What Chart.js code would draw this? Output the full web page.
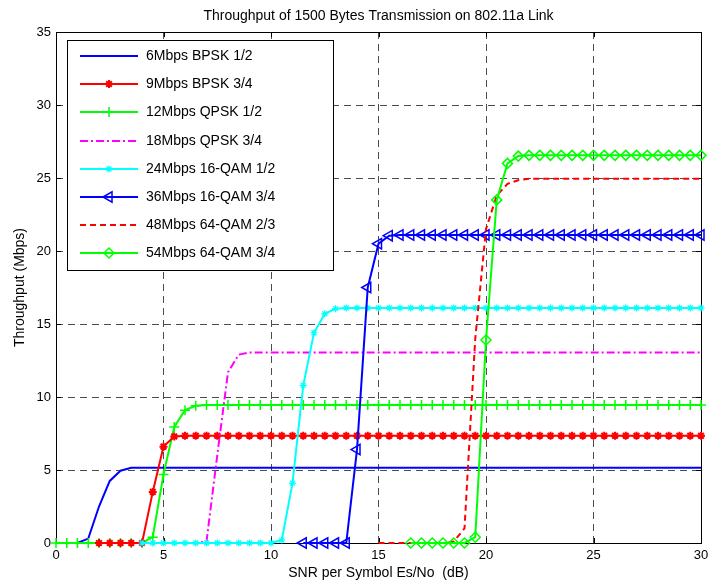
<!DOCTYPE html>
<html lang="en">
<head>
<meta charset="UTF-8" />
<title>Throughput of 1500 Bytes Transmission on 802.11a Link</title>
<script src="https://cdn.jsdelivr.net/npm/chart.js@4.4.1/dist/chart.umd.min.js"></script>
<style>
    html, body { margin: 0; padding: 0; background: #ffffff; }
    canvas { display: block; }
</style>
</head>
<body>
<canvas id="chart" width="709" height="582"></canvas>
<script>
// === Data (SNR step 0.5 dB) ===
const SNR = [
    0, 0.5, 1, 1.5, 2, 2.5, 3, 3.5, 4, 4.5,
    5, 5.5, 6, 6.5, 7, 7.5, 8, 8.5, 9, 9.5,
    10, 10.5, 11, 11.5, 12, 12.5, 13, 13.5, 14, 14.5,
    15, 15.5, 16, 16.5, 17, 17.5, 18, 18.5, 19, 19.5,
    20, 20.5, 21, 21.5, 22, 22.5, 23, 23.5, 24, 24.5,
    25, 25.5, 26, 26.5, 27, 27.5, 28, 28.5, 29, 29.5,
    30
];
const THR_6 = [
    0, 0, 0, 0.3, 2.5, 4.25, 4.95, 5.15, 5.15, 5.15,
    5.15, 5.15, 5.15, 5.15, 5.15, 5.15, 5.15, 5.15, 5.15, 5.15,
    5.15, 5.15, 5.15, 5.15, 5.15, 5.15, 5.15, 5.15, 5.15, 5.15,
    5.15, 5.15, 5.15, 5.15, 5.15, 5.15, 5.15, 5.15, 5.15, 5.15,
    5.15, 5.15, 5.15, 5.15, 5.15, 5.15, 5.15, 5.15, 5.15, 5.15,
    5.15, 5.15, 5.15, 5.15, 5.15, 5.15, 5.15, 5.15, 5.15, 5.15,
    5.15
];
const THR_9 = [
    null, null, null, null, 0, 0, 0, 0, 0, 3.5,
    6.6, 7.3, 7.35, 7.35, 7.35, 7.35, 7.35, 7.35, 7.35, 7.35,
    7.35, 7.35, 7.35, 7.35, 7.35, 7.35, 7.35, 7.35, 7.35, 7.35,
    7.35, 7.35, 7.35, 7.35, 7.35, 7.35, 7.35, 7.35, 7.35, 7.35,
    7.35, 7.35, 7.35, 7.35, 7.35, 7.35, 7.35, 7.35, 7.35, 7.35,
    7.35, 7.35, 7.35, 7.35, 7.35, 7.35, 7.35, 7.35, 7.35, 7.35,
    7.35
];
const THR_12 = [
    0, 0, 0, 0, 0, 0, 0, 0, 0, 0.4,
    4.7, 7.95, 9.1, 9.4, 9.45, 9.45, 9.45, 9.45, 9.45, 9.45,
    9.45, 9.45, 9.45, 9.45, 9.45, 9.45, 9.45, 9.45, 9.45, 9.45,
    9.45, 9.45, 9.45, 9.45, 9.45, 9.45, 9.45, 9.45, 9.45, 9.45,
    9.45, 9.45, 9.45, 9.45, 9.45, 9.45, 9.45, 9.45, 9.45, 9.45,
    9.45, 9.45, 9.45, 9.45, 9.45, 9.45, 9.45, 9.45, 9.45, 9.45,
    9.45
];
const THR_18 = [
    null, null, null, null, null, null, null, null, 0, 0,
    0, 0, 0, 0, 0.1, 6.0, 11.7, 12.9, 13.05, 13.05,
    13.05, 13.05, 13.05, 13.05, 13.05, 13.05, 13.05, 13.05, 13.05, 13.05,
    13.05, 13.05, 13.05, 13.05, 13.05, 13.05, 13.05, 13.05, 13.05, 13.05,
    13.05, 13.05, 13.05, 13.05, 13.05, 13.05, 13.05, 13.05, 13.05, 13.05,
    13.05, 13.05, 13.05, 13.05, 13.05, 13.05, 13.05, 13.05, 13.05, 13.05,
    13.05
];
const THR_24 = [
    null, null, null, null, null, null, null, null, 0, 0,
    0, 0, 0, 0, 0, 0, 0, 0, 0, 0,
    0, 0.2, 4.1, 10.8, 14.4, 15.7, 16.05, 16.1, 16.1, 16.1,
    16.1, 16.1, 16.1, 16.1, 16.1, 16.1, 16.1, 16.1, 16.1, 16.1,
    16.1, 16.1, 16.1, 16.1, 16.1, 16.1, 16.1, 16.1, 16.1, 16.1,
    16.1, 16.1, 16.1, 16.1, 16.1, 16.1, 16.1, 16.1, 16.1, 16.1,
    16.1
];
const THR_36 = [
    null, null, null, null, null, null, null, null, null, null,
    null, null, null, null, null, null, null, null, null, null,
    null, null, null, 0, 0, 0, 0, 0, 6.4, 17.5,
    20.5, 21.05, 21.1, 21.1, 21.1, 21.1, 21.1, 21.1, 21.1, 21.1,
    21.1, 21.1, 21.1, 21.1, 21.1, 21.1, 21.1, 21.1, 21.1, 21.1,
    21.1, 21.1, 21.1, 21.1, 21.1, 21.1, 21.1, 21.1, 21.1, 21.1,
    21.1
];
const THR_48 = [
    null, null, null, null, null, null, null, null, null, null,
    null, null, null, null, null, null, null, null, null, null,
    null, null, null, null, null, null, null, null, null, null,
    0, 0, 0, 0, 0, 0, 0, 0.1, 1.0, 14,
    21.5, 23.8, 24.6, 24.85, 24.95, 24.95, 24.95, 24.95, 24.95, 24.95,
    24.95, 24.95, 24.95, 24.95, 24.95, 24.95, 24.95, 24.95, 24.95, 24.95,
    24.95
];
const THR_54 = [
    null, null, null, null, null, null, null, null, null, null,
    null, null, null, null, null, null, null, null, null, null,
    null, null, null, null, null, null, null, null, null, null,
    null, null, null, 0, 0, 0, 0, 0, 0, 0.4,
    13.9, 23.5, 26.0, 26.5, 26.55, 26.55, 26.55, 26.55, 26.55, 26.55,
    26.55, 26.55, 26.55, 26.55, 26.55, 26.55, 26.55, 26.55, 26.55, 26.55,
    26.55
];
const LABELS = [
    "6Mbps BPSK 1/2", "9Mbps BPSK 3/4", "12Mbps QPSK 1/2", "18Mbps QPSK 3/4",
    "24Mbps 16-QAM 1/2", "36Mbps 16-QAM 3/4", "48Mbps 64-QAM 2/3", "54Mbps 64-QAM 3/4"
];
const X_TICKS = [0, 5, 10, 15, 20, 25, 30];
const Y_TICKS = [0, 5, 10, 15, 20, 25, 30, 35];

const FONT = "'Liberation Sans', Arial, Helvetica, sans-serif";
Chart.defaults.font.family = FONT;
Chart.defaults.color = "#000";

// pair the SNR axis with a series, skipping points that were not simulated
function toPoints(values) {
    const pts = [];
    values.forEach((v, i) => { if (v !== null) pts.push({ x: SNR[i], y: v }); });
    return pts;
}

// line + marker styles (Matlab-like); lower order is drawn on top
const STYLES = [
    { color: "#0000ff", dash: [], marker: false, order: 8 },
    { color: "#ff0000", dash: [], marker: "star", radius: 4, width: 2, order: 6 },
    { color: "#00ff00", dash: [], marker: "cross", radius: 5, width: 1.5, order: 7 },
    { color: "#ff00ff", dash: [8, 3, 2, 3], marker: false, order: 5 },
    { color: "#00ffff", dash: [], marker: "star", radius: 3.5, width: 1.2, order: 4 },
    { color: "#0000ff", dash: [], marker: "triangle", rotation: -90, radius: 6, width: 1.5, order: 3 },
    { color: "#ff0000", dash: [6, 4], marker: false, order: 2 },
    { color: "#00ff00", dash: [], marker: "rectRot", radius: 5, width: 1.5, order: 1 }
];
const SERIES = [THR_6, THR_9, THR_12, THR_18, THR_24, THR_36, THR_48, THR_54];

const datasets = SERIES.map((vals, i) => {
    const s = STYLES[i];
    return {
        label: LABELS[i],
        data: toPoints(vals),
        borderColor: s.color,
        borderWidth: 2,
        borderDash: s.dash,
        tension: 0,
        fill: false,
        order: s.order,
        clip: 10,
        pointStyle: s.marker || "circle",
        pointRadius: s.marker ? s.radius : 0,
        pointRotation: s.rotation || 0,
        pointBorderWidth: s.width || 0,
        pointBorderColor: s.color,
        pointBackgroundColor: "rgba(0,0,0,0)"
    };
});

// grid lines only inside the box; the box itself is drawn by axesBox
function innerGrid(min, max) {
    return (ctx) => (ctx.tick && (ctx.tick.value === min || ctx.tick.value === max))
        ? "rgba(0,0,0,0)" : "rgba(0,0,0,0.7)";
}

// === Plugins: title, Matlab box with inward ticks, legend in the corner ===
const plotTitle = {
    id: "plotTitle",
    afterDraw(chart) {
        const { ctx, chartArea } = chart;
        ctx.save();
        ctx.font = "14px " + FONT;
        ctx.fillStyle = "#000";
        ctx.textAlign = "center";
        ctx.textBaseline = "middle";
        ctx.fillText("Throughput of 1500 Bytes Transmission on 802.11a Link",
            (chartArea.left + chartArea.right) / 2, 16);
        ctx.restore();
    }
};

const axesBox = {
    id: "axesBox",
    beforeDatasetsDraw(chart) {
        const { ctx, chartArea, scales } = chart;
        const L = Math.round(chartArea.left), R = Math.round(chartArea.right);
        const T = Math.round(chartArea.top), B = Math.round(chartArea.bottom);
        ctx.save();
        ctx.strokeStyle = "#000";
        ctx.lineWidth = 1;
        ctx.strokeRect(L + 0.5, T + 0.5, R - L, B - T);
        ctx.beginPath();
        X_TICKS.forEach((t) => {
            const x = Math.round(scales.x.getPixelForValue(t)) + 0.5;
            ctx.moveTo(x, B); ctx.lineTo(x, B - 5);
            ctx.moveTo(x, T); ctx.lineTo(x, T + 5);
        });
        Y_TICKS.forEach((t) => {
            const y = Math.round(scales.y.getPixelForValue(t)) + 0.5;
            ctx.moveTo(L, y); ctx.lineTo(L + 5, y);
            ctx.moveTo(R, y); ctx.lineTo(R - 5, y);
        });
        ctx.stroke();
        ctx.restore();
    }
};

const cornerLegend = {
    id: "cornerLegend",
    afterDraw(chart) {
        const { ctx, chartArea } = chart;
        const x0 = Math.round(chartArea.left) + 11, y0 = Math.round(chartArea.top) + 8;
        const w = 266, h = 230;
        ctx.save();
        ctx.fillStyle = "#fff";
        ctx.fillRect(x0, y0, w, h);
        ctx.strokeStyle = "#000";
        ctx.lineWidth = 1;
        ctx.strokeRect(x0 + 0.5, y0 + 0.5, w, h);
        chart.data.datasets.forEach((ds, i) => {
            const y = Math.round(y0 + 16 + i * 28.2);
            ctx.setLineDash(ds.borderDash);
            ctx.strokeStyle = ds.borderColor;
            ctx.lineWidth = ds.borderWidth;
            ctx.beginPath();
            ctx.moveTo(x0 + 13, y);
            ctx.lineTo(x0 + 71, y);
            ctx.stroke();
            ctx.setLineDash([]);
            if (ds.pointRadius > 0) {
                ctx.fillStyle = ds.pointBackgroundColor;
                ctx.strokeStyle = ds.pointBorderColor;
                ctx.lineWidth = ds.pointBorderWidth;
                Chart.helpers.drawPoint(ctx, {
                    pointStyle: ds.pointStyle,
                    radius: ds.pointRadius,
                    rotation: ds.pointRotation,
                    borderWidth: ds.pointBorderWidth
                }, x0 + 42, y);
            }
            ctx.fillStyle = "#000";
            ctx.font = "14px " + FONT;
            ctx.textAlign = "left";
            ctx.textBaseline = "middle";
            ctx.fillText(ds.label, x0 + 79, y);
        });
        ctx.restore();
    }
};

new Chart(document.getElementById("chart"), {
    type: "line",
    data: { datasets },
    options: {
        responsive: false,
        animation: false,
        events: [],
        layout: { padding: { top: 32, right: 8, left: 0, bottom: 0 } },
        plugins: { legend: { display: false }, tooltip: { enabled: false }, title: { display: false } },
        scales: {
            x: {
                type: "linear",
                min: 0,
                max: 30,
                afterFit: (scale) => { scale.height = 39; scale.paddingLeft = 0; scale.paddingRight = 0; },
                afterBuildTicks: (scale) => { scale.ticks = X_TICKS.map((v) => ({ value: v })); },
                ticks: { font: { size: 13 }, padding: 5, maxRotation: 0 },
                grid: { color: innerGrid(0, 30), lineWidth: 1, drawTicks: false },
                border: { display: false, dash: [7, 5] },
                title: { display: true, text: "SNR per Symbol Es/No  (dB)", font: { size: 14 }, padding: { top: 0, bottom: 0 } }
            },
            y: {
                min: 0,
                max: 35,
                afterFit: (scale) => { scale.width = 56; },
                afterBuildTicks: (scale) => { scale.ticks = Y_TICKS.map((v) => ({ value: v })); },
                ticks: { font: { size: 13 }, padding: 5 },
                grid: { color: innerGrid(0, 35), lineWidth: 1, drawTicks: false },
                border: { display: false, dash: [7, 5] },
                title: { display: true, text: "Throughput (Mbps)", font: { size: 14 }, padding: { top: 12, bottom: 0 } }
            }
        }
    },
    plugins: [plotTitle, axesBox, cornerLegend]
});
</script>
</body>
</html>
